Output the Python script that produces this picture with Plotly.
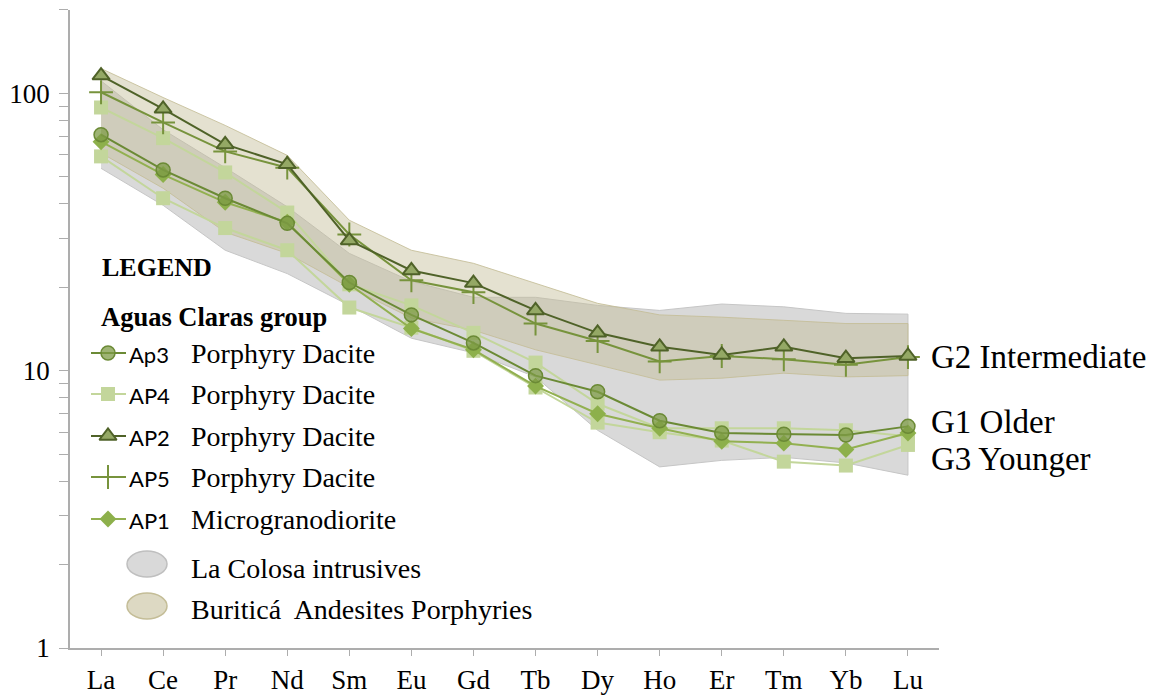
import plotly.graph_objects as go

# ---------------- data ----------------
elements = ['La', 'Ce', 'Pr', 'Nd', 'Sm', 'Eu', 'Gd', 'Tb', 'Dy', 'Ho', 'Er', 'Tm', 'Yb', 'Lu']

ap3 = [71, 53, 41.9, 34, 20.8, 15.9, 12.6, 9.6, 8.4, 6.6, 5.96, 5.9, 5.86, 6.3]
ap4a = [89, 69, 51.9, 37.2, 20.5, 17.2, 13.7, 10.7, 7.6, 6.2, 6.2, 6.2, 6.1, 5.8]
ap4b = [59.3, 41.9, 32.7, 27.2, 16.9, 14.3, 11.8, 8.7, 6.5, 6.0, 5.6, 4.7, 4.55, 5.4]
ap2 = [116, 88, 65.5, 55.5, 29.5, 23, 20.7, 16.5, 13.7, 12.2, 11.4, 12.2, 11.1, 11.3]
ap5 = [101, 78.6, 61.8, 54, 31, 21.2, 19.2, 14.8, 12.8, 10.8, 11.3, 11.0, 10.5, 11.2]
ap1 = [67, 51, 40.5, 34.3, 20.5, 14.2, 11.9, 8.8, 7.0, 6.2, 5.57, 5.48, 5.2, 5.96]

colosa_hi = [111, 74, 54, 39, 26.5, 21, 18.4, 18.4, 17.2, 16.5, 17.4, 17, 16.1, 16]
colosa_lo = [53.7, 39.5, 27.2, 22.4, 17.2, 13.1, 11.6, 9.5, 6.1, 4.5, 4.75, 4.87, 4.65, 4.2]
buritica_hi = [123, 96.7, 76.7, 59.8, 34.9, 27.2, 24.4, 20.7, 17.5, 15.9, 15.6, 15.2, 14.8, 14.8]
buritica_lo = [61, 45.5, 31.6, 26.5, 20, 15.5, 14, 11.9, 10.5, 9.25, 9.4, 9.8, 9.5, 9.6]

y_major = [1, 10, 100]
y_minor = [2, 3, 4, 5, 6, 7, 8, 9, 20, 30, 40, 50, 60, 70, 80, 90, 200]

group_labels = ['G2 Intermediate', 'G1 Older', 'G3 Younger']

# ---------------- styles ----------------
SERIF = 'Liberation Serif'
SANS = 'Lato'
AXIS_COL = '#ADADAD'

GRAY_FILL = '#D9D9D9'
GRAY_EDGE = '#C6C6C6'
TAN_FILL = 'rgba(196,189,151,0.45)'
TAN_EDGE = 'rgba(196,189,151,0.85)'

styles = {
    'Ap3': dict(line=dict(color='#6B8A35', width=2),
                marker=dict(symbol='circle', size=14, color='rgba(125,155,70,0.75)',
                            line=dict(color='#6B8A35', width=1.5))),
    'AP4': dict(line=dict(color='#C3D69B', width=2),
                marker=dict(symbol='square', size=14, color='#C3D69B', line=dict(width=0))),
    'AP2': dict(line=dict(color='#4F6228', width=2),
                marker=dict(symbol='triangle-up', size=15, color='#94A865',
                            line=dict(color='#4F6228', width=2))),
    'AP5': dict(line=dict(color='#77933C', width=2),
                marker=dict(symbol='cross-thin', size=17, color='#77933C',
                            line=dict(color='#77933C', width=2))),
    'AP1': dict(line=dict(color='#92B050', width=2),
                marker=dict(symbol='diamond', size=13, color='#8DB04B',
                            line=dict(width=0))),
}

fig = go.Figure()

# bands
fig.add_trace(go.Scatter(x=elements + elements[::-1], y=colosa_hi + colosa_lo[::-1],
                         fill='toself', fillcolor=GRAY_FILL, mode='lines',
                         line=dict(color=GRAY_EDGE, width=1), showlegend=False, hoverinfo='skip'))
fig.add_trace(go.Scatter(x=elements + elements[::-1], y=buritica_hi + buritica_lo[::-1],
                         fill='toself', fillcolor=TAN_FILL, mode='lines',
                         line=dict(color=TAN_EDGE, width=1), showlegend=False, hoverinfo='skip'))

# sample lines
series = [('AP4', ap4b), ('AP4', ap4a), ('AP1', ap1), ('Ap3', ap3), ('AP5', ap5), ('AP2', ap2)]
for name, vals in series:
    st = styles[name]
    fig.add_trace(go.Scatter(x=elements, y=vals, mode='lines+markers', name=name,
                             line=st['line'], marker=st['marker'], showlegend=False))

# ---------------- manual legend (overlay axes in screen-pixel units) ----------------
OFF = 8                      # page body margin
FIG_W, FIG_H = 1159 - OFF, 698 - OFF
PX_L, PX_R, PX_T, PX_B = 70, 939, 10, 648   # plot area in screen pixels
legend_rows = [('Ap3', 'Porphyry Dacite', 353),
               ('AP4', 'Porphyry Dacite', 394),
               ('AP2', 'Porphyry Dacite', 436),
               ('AP5', 'Porphyry Dacite', 477),
               ('AP1', 'Microgranodiorite', 519)]
for name, desc, yy in legend_rows:
    st = styles[name]
    fig.add_trace(go.Scatter(x=[91, 126], y=[yy, yy], mode='lines', line=st['line'],
                             xaxis='x2', yaxis='y2', showlegend=False, hoverinfo='skip'))
    fig.add_trace(go.Scatter(x=[108], y=[yy], mode='markers', marker=st['marker'],
                             xaxis='x2', yaxis='y2', showlegend=False, hoverinfo='skip'))

annotations = []
def txt(x, y, s, font, size, bold=False, color='black'):
    annotations.append(dict(x=x, y=y, xref='x2', yref='y2', text=(f'<b>{s}</b>' if bold else s),
                            showarrow=False, xanchor='left', yanchor='middle',
                            font=dict(family=font, size=size, color=color)))

txt(100, 267, 'LEGEND', SERIF, 26, bold=True)
txt(99, 317, 'Aguas Claras group', SERIF, 26.5, bold=True)
for name, desc, yy in legend_rows:
    txt(127, yy + 1, name, SANS, 22)
    txt(189, yy, desc, SERIF, 28)

band_rows = [('La Colosa intrusives', GRAY_FILL, '#BFBFBF', 564, 568),
             ('Buriticá  Andesites Porphyries', '#DDD9C3', '#C4BD97', 606, 609)]
shapes = []
for label, fc, lc, ey, ty in band_rows:
    shapes.append(dict(type='circle', xref='x2', yref='y2', x0=127, x1=167, y0=ey - 13, y1=ey + 13,
                       fillcolor=fc, line=dict(color=lc, width=1.5), layer='above'))
    txt(189, ty, label, SERIF, 28)

# group labels to the right of the plot
for label, yy in zip(group_labels, [357, 422, 459]):
    txt(929, yy, label, SERIF, 33)

fig.update_layout(
    width=FIG_W, height=FIG_H,
    margin=dict(l=PX_L - OFF, r=FIG_W - (PX_R - OFF), t=PX_T - OFF, b=FIG_H - (PX_B - OFF),
                autoexpand=False),
    paper_bgcolor='white', plot_bgcolor='white',
    showlegend=False,
    annotations=annotations,
    shapes=shapes,
    xaxis=dict(type='category', categoryorder='array', categoryarray=elements,
               range=[-0.5, len(elements) - 0.5], showgrid=False, zeroline=False,
               automargin=False,
               showline=True, linecolor=AXIS_COL, linewidth=1.5,
               ticks='outside', ticklen=6, tickcolor=AXIS_COL, tickwidth=1,
               tickfont=dict(family=SERIF, size=27, color='black'),
               ticklabelstandoff=1),
    yaxis=dict(type='log', range=[0, 2.301], showgrid=False, zeroline=False,
               automargin=False,
               showline=True, linecolor=AXIS_COL, linewidth=1.5,
               tickvals=y_major, ticktext=[str(v) for v in y_major],
               ticks='outside', ticklen=9, tickcolor=AXIS_COL, tickwidth=1,
               tickfont=dict(family=SERIF, size=27, color='black'),
               ticklabelstandoff=4,
               minor=dict(tickvals=y_minor, ticks='outside', ticklen=9,
                          tickcolor=AXIS_COL, tickwidth=1, showgrid=False)),
    xaxis2=dict(overlaying='x', range=[PX_L, PX_R], visible=False, fixedrange=True,
                automargin=False),
    yaxis2=dict(overlaying='y', range=[PX_B, PX_T], visible=False, fixedrange=True,
                automargin=False),
)

fig.write_html('out.html')
